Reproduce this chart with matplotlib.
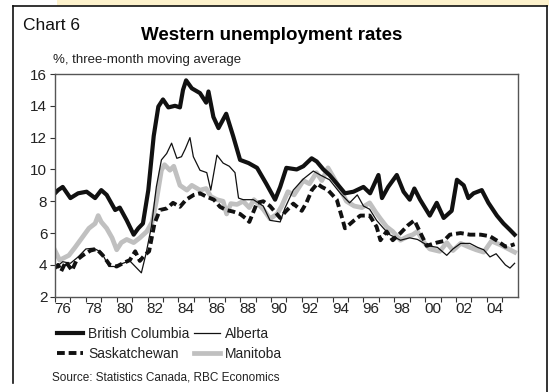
import matplotlib
matplotlib.use('Agg')
import matplotlib.pyplot as plt
from matplotlib.lines import Line2D
from matplotlib.patches import Rectangle
from matplotlib.ticker import FixedLocator, NullFormatter

plt.rcParams['font.family'] = ['Liberation Sans', 'DejaVu Sans']

# unemployment rate, %, three-month moving average
bc_years = [1976.0, 1976.2, 1976.5, 1977.0, 1977.5, 1978.05, 1978.6, 1979.0, 1979.35, 1979.9,
            1980.2, 1980.65, 1981.1, 1981.4, 1981.7, 1982.05, 1982.4, 1982.7, 1983.0, 1983.35,
            1983.78, 1984.1, 1984.3, 1984.5, 1984.87, 1985.4, 1985.8, 1985.95, 1986.27, 1986.6,
            1987.1, 1987.55, 1988.0, 1988.55, 1989.1, 1989.7, 1990.27, 1990.6, 1991.0, 1991.67,
            1992.1, 1992.64, 1992.97, 1993.4, 1993.8, 1994.37, 1994.8, 1995.35, 1996.0, 1996.43,
            1996.97, 1997.2, 1997.6, 1998.16, 1998.6, 1999.0, 1999.3, 1999.67, 2000.3, 2000.75,
            2001.2, 2001.72, 2002.06, 2002.5, 2002.8, 2003.14, 2003.67, 2004.1, 2004.65, 2005.08,
            2005.5, 2005.8]
bc_rate = [8.5, 8.7, 8.9, 8.2, 8.5, 8.6, 8.2, 8.7, 8.4, 7.45,
           7.6, 6.8, 5.9, 6.3, 6.6, 8.7, 12.1, 13.95, 14.4, 13.9,
           14.0, 13.9, 15.0, 15.6, 15.1, 14.8, 14.2, 14.9, 13.3, 12.6,
           13.5, 12.1, 10.6, 10.4, 10.1, 9.1, 8.1, 8.9, 10.1, 10.0,
           10.2, 10.7, 10.5, 10.0, 9.65, 9.0, 8.5, 8.6, 8.9, 8.5,
           9.65, 8.2, 8.9, 9.65, 8.6, 8.1, 8.8, 8.1, 7.1, 7.9,
           6.95, 7.4, 9.35, 9.0, 8.2, 8.5, 8.7, 7.9, 7.1, 6.6,
           6.2, 5.9]

ab_years = [1976.0, 1976.5, 1977.0, 1977.5, 1978.0, 1978.5, 1979.0, 1979.5, 1980.0, 1980.4,
            1980.85, 1981.2, 1981.6, 1981.9, 1982.25, 1982.57, 1982.9, 1983.24, 1983.56, 1983.9,
            1984.2, 1984.45, 1984.75, 1984.97, 1985.4, 1985.84, 1986.1, 1986.5, 1986.9, 1987.3,
            1987.67, 1987.9, 1988.2, 1988.86, 1989.5, 1989.94, 1990.6, 1990.9, 1991.45, 1992.1,
            1992.75, 1993.2, 1993.8, 1994.5, 1995.1, 1995.6, 1996.0, 1996.4, 1996.85, 1997.3,
            1997.7, 1998.4, 1999.0, 1999.5, 2000.2, 2000.8, 2001.4, 2001.8, 2002.3, 2002.9,
            2003.4, 2003.8, 2004.2, 2004.6, 2005.2, 2005.5, 2005.8]
ab_rate = [3.8, 4.2, 4.1, 4.5, 5.0, 5.05, 4.8, 3.9, 3.9, 4.1,
           4.25, 3.9, 3.5, 4.7, 6.4, 8.9, 10.6, 11.0, 11.65, 10.7,
           10.8, 11.3, 12.0, 10.8, 9.95, 9.8, 8.7, 10.9, 10.4, 10.2,
           9.8, 8.2, 8.1, 8.1, 7.7, 6.8, 6.7, 7.55, 8.7, 9.4,
           9.9, 9.65, 9.35, 8.5, 7.9, 8.4, 7.7, 7.5, 6.8, 6.3,
           5.9, 5.55, 5.7, 5.6, 5.2, 5.1, 4.6, 5.0, 5.35, 5.35,
           5.1, 4.95, 4.5, 4.7, 4.0, 3.8, 4.1]

sk_years = [1976.0, 1976.2, 1976.4, 1976.7, 1977.1, 1977.4, 1977.8, 1978.3, 1978.7, 1979.1,
            1979.55, 1980.0, 1980.4, 1980.85, 1981.2, 1981.5, 1981.8, 1982.1, 1982.45, 1982.8,
            1983.25, 1983.65, 1984.1, 1984.5, 1985.0, 1985.4, 1985.8, 1986.3, 1986.7, 1987.1,
            1987.55, 1988.0, 1988.4, 1988.6, 1989.1, 1989.5, 1989.94, 1990.6, 1990.9, 1991.45,
            1992.0, 1992.3, 1992.65, 1993.0, 1993.3, 1993.7, 1994.27, 1994.6, 1994.8, 1995.4,
            1995.8, 1996.4, 1996.85, 1997.1, 1997.5, 1997.9, 1998.4, 1998.9, 1999.3, 1999.6,
            2000.1, 2000.75, 2001.2, 2001.6, 2002.3, 2002.9, 2003.6, 2004.2, 2004.7, 2005.2,
            2005.5, 2005.8]
sk_rate = [3.8, 4.0, 3.6, 4.2, 3.65, 4.3, 4.6, 4.9, 5.0, 4.6,
           4.0, 3.9, 4.1, 4.3, 4.85, 4.25, 4.6, 4.85, 6.6, 7.45,
           7.55, 7.9, 7.65, 8.1, 8.4, 8.5, 8.3, 8.1, 7.65, 7.45,
           7.35, 7.2, 6.9, 6.7, 7.9, 8.0, 7.7, 6.95, 7.3, 7.85,
           7.4, 7.9, 8.7, 9.1, 8.9, 8.7, 8.1, 7.0, 6.3, 6.8,
           7.1, 7.1, 6.4, 5.55, 6.1, 5.55, 6.0, 6.5, 6.8, 6.2,
           5.2, 5.4, 5.5, 5.9, 6.0, 5.9, 5.9, 5.8, 5.5, 5.15,
           5.2, 5.3]

mb_years = [1976.0, 1976.3, 1976.9, 1977.3, 1977.75, 1978.2, 1978.6, 1978.8, 1979.0, 1979.35,
            1979.7, 1980.0, 1980.3, 1980.65, 1981.1, 1981.5, 1981.95, 1982.3, 1982.57, 1982.9,
            1983.1, 1983.45, 1983.7, 1984.1, 1984.55, 1984.87, 1985.4, 1985.8, 1986.1, 1986.5,
            1986.9, 1987.13, 1987.4, 1987.8, 1988.2, 1988.6, 1988.9, 1989.5, 1989.94, 1990.4,
            1990.7, 1991.1, 1991.5, 1992.1, 1992.5, 1992.95, 1993.3, 1993.7, 1994.0, 1994.4,
            1994.9, 1995.4, 1995.9, 1996.4, 1996.8, 1997.1, 1997.5, 1997.9, 1998.4, 1998.9,
            1999.2, 1999.5, 1999.9, 2000.3, 2000.95, 2001.4, 2001.8, 2002.3, 2002.9, 2003.3,
            2003.8, 2004.3, 2004.9, 2005.5, 2005.8]
mb_rate = [4.9, 4.3, 4.6, 5.1, 5.7, 6.3, 6.6, 7.1, 6.7, 6.3,
           5.7, 4.95, 5.4, 5.6, 5.4, 5.7, 6.1, 6.7, 8.0, 9.95,
           10.3, 9.95, 10.2, 9.0, 8.7, 9.0, 8.7, 8.8, 8.3, 8.1,
           8.0, 7.2, 7.85, 7.8, 8.0, 7.6, 8.1, 7.5, 6.9, 7.2,
           7.7, 8.6, 8.4, 9.3, 9.1, 9.8, 9.3, 10.1, 9.6, 8.9,
           8.0, 7.7, 7.6, 7.9, 7.3, 6.9, 6.4, 6.1, 5.55, 5.8,
           5.9, 6.1, 5.45, 5.0, 4.85, 5.4, 4.9, 5.35, 5.1, 4.95,
           4.8, 5.5, 5.25, 4.95, 4.8]

year_ticks = list(range(1976, 2006))
label_years = list(range(1976, 2005, 2))
year_labels = ['%02d' % (y % 100) for y in label_years]

W, H = 549, 392
fig = plt.figure(figsize=(W / 100, H / 100), dpi=100)
fig.patch.set_facecolor('white')

# page strip and chart frame
fig.add_artist(Rectangle((57 / W, 1 - 6 / H), 1, 6 / H, transform=fig.transFigure,
                         facecolor='#FDF2CC', edgecolor='none'))
frame_kw = dict(transform=fig.transFigure, color='#111111', lw=1.2)
fig.add_artist(Line2D([13 / W, 13 / W], [1 - 6 / H, 1 - 383 / H], **frame_kw))
fig.add_artist(Line2D([13 / W, 547 / W], [1 - 6 / H, 1 - 6 / H], **frame_kw))
fig.add_artist(Line2D([547 / W, 547 / W], [1 - 6 / H, 0], **frame_kw))

ax = fig.add_axes([55 / W, 1 - 296.7 / H, (517.7 - 55) / W, (296.7 - 74) / H])

mb, = ax.plot(mb_years, mb_rate, color='#C0C0C0', lw=3.4, solid_joinstyle='round', label='Manitoba')
sk, = ax.plot(sk_years, sk_rate, color='#111111', lw=2.8, dashes=(2, 1), label='Saskatchewan')
ab, = ax.plot(ab_years, ab_rate, color='#111111', lw=0.9, label='Alberta')
bc, = ax.plot(bc_years, bc_rate, color='#111111', lw=3.0, solid_joinstyle='round',
              label='British Columbia')

ax.set_xlim(1976, 2006)
ax.set_ylim(2, 16)
ax.set_yticks(range(2, 17, 2))
ax.xaxis.set_major_locator(FixedLocator(year_ticks))
ax.xaxis.set_major_formatter(NullFormatter())
ax.xaxis.set_minor_locator(FixedLocator([y + 0.5 for y in label_years]))
ax.set_xticklabels(year_labels, minor=True)
ax.tick_params(axis='x', which='minor', length=0, pad=4)
ax.tick_params(axis='y', pad=2)
ax.tick_params(axis='both', which='major', direction='out', length=3.5, width=0.8,
               color='#333333')
ax.tick_params(axis='both', which='both', labelsize=11, labelcolor='#222222')
for sp in ax.spines.values():
    sp.set_color('#555555')
    sp.set_linewidth(1.0)

fig.text(23 / W, 1 - 25 / H, 'Chart 6', fontsize=12.5, color='#111111', va='center', ha='left')
fig.text(272 / W, 1 - 36 / H, 'Western unemployment rates', fontsize=13.5, fontweight='bold',
         color='#000000', va='center', ha='center')
fig.text(53 / W, 1 - 60 / H, '%, three-month moving average', fontsize=9.5, color='#222222',
         va='center', ha='left')

fig.legend(handles=[bc, sk, ab, mb], ncol=2, loc='upper left',
           bbox_to_anchor=(57 / W, 1 - 327 / H), frameon=False, fontsize=10,
           handlelength=1.9, handletextpad=0.35, columnspacing=0.3, labelspacing=0.45,
           borderpad=0, borderaxespad=0, labelcolor='#222222')

fig.text(52 / W, 1 - 377 / H, 'Source: Statistics Canada, RBC Economics', fontsize=8.5,
         color='#222222', va='center', ha='left')

fig.savefig('out.png', dpi=100)
